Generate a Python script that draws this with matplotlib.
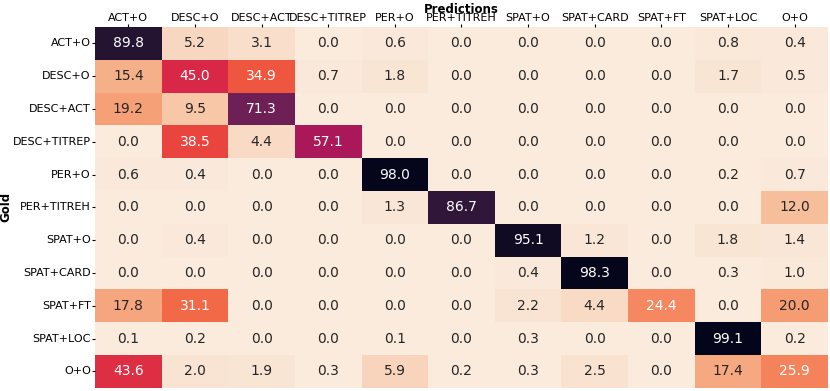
import numpy as np
import matplotlib
matplotlib.use("Agg")
import matplotlib.pyplot as plt
import seaborn as sns

labels = ["ACT+O", "DESC+O", "DESC+ACT", "DESC+TITREP", "PER+O", "PER+TITREH",
          "SPAT+O", "SPAT+CARD", "SPAT+FT", "SPAT+LOC", "O+O"]

row_act_o = [89.8, 5.2, 3.1, 0.0, 0.6, 0.0, 0.0, 0.0, 0.0, 0.8, 0.4]
row_desc_o = [15.4, 45.0, 34.9, 0.7, 1.8, 0.0, 0.0, 0.0, 0.0, 1.7, 0.5]
row_desc_act = [19.2, 9.5, 71.3, 0.0, 0.0, 0.0, 0.0, 0.0, 0.0, 0.0, 0.0]
row_desc_titrep = [0.0, 38.5, 4.4, 57.1, 0.0, 0.0, 0.0, 0.0, 0.0, 0.0, 0.0]
row_per_o = [0.6, 0.4, 0.0, 0.0, 98.0, 0.0, 0.0, 0.0, 0.0, 0.2, 0.7]
row_per_titreh = [0.0, 0.0, 0.0, 0.0, 1.3, 86.7, 0.0, 0.0, 0.0, 0.0, 12.0]
row_spat_o = [0.0, 0.4, 0.0, 0.0, 0.0, 0.0, 95.1, 1.2, 0.0, 1.8, 1.4]
row_spat_card = [0.0, 0.0, 0.0, 0.0, 0.0, 0.0, 0.4, 98.3, 0.0, 0.3, 1.0]
row_spat_ft = [17.8, 31.1, 0.0, 0.0, 0.0, 0.0, 2.2, 4.4, 24.4, 0.0, 20.0]
row_spat_loc = [0.1, 0.2, 0.0, 0.0, 0.1, 0.0, 0.3, 0.0, 0.0, 99.1, 0.2]
row_o_o = [43.6, 2.0, 1.9, 0.3, 5.9, 0.2, 0.3, 2.5, 0.0, 17.4, 25.9]

cm = np.array([row_act_o, row_desc_o, row_desc_act, row_desc_titrep, row_per_o,
               row_per_titreh, row_spat_o, row_spat_card, row_spat_ft,
               row_spat_loc, row_o_o])

fig = plt.figure(figsize=(8.3, 3.91), dpi=100)
ax = fig.add_axes([0.1145, 0.008, 0.883, 0.923])
sns.heatmap(cm, annot=True, fmt=".1f", cmap="rocket_r", cbar=False,
            xticklabels=labels, yticklabels=labels, ax=ax,
            annot_kws={"fontsize": 10})
ax.xaxis.tick_top()
ax.xaxis.set_label_position("top")
ax.tick_params(axis="both", labelsize=8, length=2, pad=1)
plt.setp(ax.get_xticklabels(), rotation=0)
plt.setp(ax.get_yticklabels(), rotation=0)
ax.set_xlabel("Predictions", fontsize=8.5, fontweight="bold", labelpad=0)
ax.set_ylabel("Gold", fontsize=8.5, fontweight="bold")
ax.yaxis.set_label_coords(-0.113, 0.5)

fig.savefig("out.png", dpi=100)
